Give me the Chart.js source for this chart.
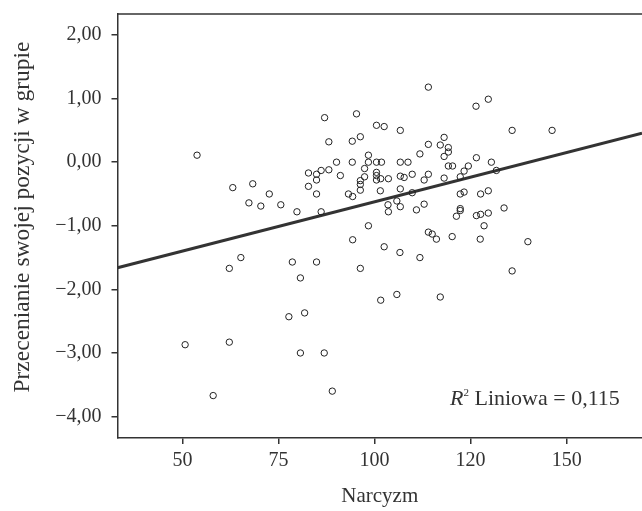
<!DOCTYPE html>
<html>
<head>
<meta charset="utf-8">
<script src="https://cdn.jsdelivr.net/npm/chart.js@4/dist/chart.umd.min.js"></script>
<style>
body{margin:0;background:#fff}
</style>
</head>
<body>
<canvas id="chart" width="642" height="511"></canvas>
<script>
// Narcyzm (x) vs Przecenianie swojej pozycji w grupie (y)
const narcyzm=[53.8,63.1,68.3,67.3,70.4,72.6,75.6,79.8,86.1,82.8,
82.8,84.9,84.9,84.9,86.1,88.1,87.0,88.1,91.1,90.1,
93.2,94.3,94.2,94.2,95.3,96.3,98.4,98.4,97.4,97.4,
96.3,96.3,96.3,100.5,102.5,100.5,101.8,100.5,100.5,100.5,
101.6,103.6,101.5,103.5,103.6,98.4,106.7,126.4,114.0,129.6,
118.1,114.0,117.1,119.2,119.2,111.8,118.1,126.5,106.7,108.7,
119.2,120.3,124.4,123.3,130.4,109.8,106.7,107.7,114.0,112.9,
118.1,122.3,106.7,109.8,122.3,123.3,127.6,129.6,105.8,106.7,
110.9,112.9,122.3,122.3,121.3,126.5,127.6,129.6,128.5,131.7,
133.7,135.8,146.2,94.3,65.2,62.2,78.6,84.9,80.7,96.3,
77.7,81.8,50.7,62.2,80.7,86.9,58.0,89.0,114.0,115.0,
116.1,120.2,127.5,139.9,102.5,106.6,111.8,135.8,101.6,105.8,
117.1]
const przecenianie=[0.11,-0.40,-0.34,-0.64,-0.69,-0.50,-0.67,-0.78,-0.78,-0.17,
-0.38,-0.19,-0.28,-0.50,-0.13,-0.12,0.70,0.32,-0.21,0.00,
-0.50,-0.54,0.00,0.33,0.76,0.40,0.11,0.00,-0.10,-0.23,
-0.29,-0.35,-0.44,0.58,0.56,0.00,0.00,-0.16,-0.21,-0.28,
-0.26,-0.26,-0.45,-0.67,-0.78,-1.00,0.50,0.88,1.18,0.99,
0.39,0.28,0.27,0.23,0.16,0.13,0.09,0.07,0.00,0.00,
-0.06,-0.06,-0.06,-0.14,0.00,-0.19,-0.22,-0.24,-0.19,-0.28,
-0.25,-0.23,-0.42,-0.48,-0.50,-0.47,-0.50,-0.45,-0.61,-0.70,
-0.75,-0.66,-0.73,-0.76,-0.85,-0.84,-0.82,-0.80,-1.00,-0.13,
-0.72,0.50,0.50,-1.22,-1.50,-1.67,-1.57,-1.57,-1.82,-1.67,
-2.43,-2.37,-2.87,-2.83,-3.00,-3.00,-3.67,-3.60,-1.10,-1.13,
-1.21,-1.17,-1.21,-1.25,-1.33,-1.42,-1.50,-1.71,-2.17,-2.08,
-2.12]

// fitted line, end points read at the plot edges
const fitX=[33.1,169.6]
const fitY=[-1.66,0.454]

const xTicks=[50,75,100,125,150]
const xTickLabels=["50","75","100","120","150"]
const yTicks=[-4,-3,-2,-1,0,1,2]
const yTickLabels=["\u22124,00","\u22123,00","\u22122,00","\u22121,00","0,00","1,00","2,00"]
const xTitle="Narcyzm"
const yTitle="Przecenianie swojej pozycji w grupie"
const r2Value="0,115"

const ink="#333"
const serif="'Liberation Serif', 'Times New Roman', serif"

const framePlugin={
id:"frame",
afterDraw(chart){
const c=chart.ctx
const a=chart.chartArea
c.save()
c.strokeStyle=ink
c.lineWidth=1.5
c.beginPath()
c.moveTo(a.left,a.top)
c.lineTo(a.right,a.top)
c.stroke()

// y axis title
c.save()
c.translate(23,a.top+203)
c.rotate(-Math.PI/2)
c.fillStyle=ink
c.font="23.5px "+serif
c.textAlign="center"
c.textBaseline="middle"
c.fillText(yTitle,0,0)
c.restore()

// R2 label
let x=a.right-192
let y=a.bottom-33
c.fillStyle=ink
c.textBaseline="alphabetic"
c.font="italic 22px "+serif
c.fillText("R",x,y)
x+=c.measureText("R").width
c.font="11px "+serif
c.fillText("2",x,y-9)
x+=c.measureText("2").width
c.font="22px "+serif
c.fillText(" Liniowa = "+r2Value,x,y)
c.restore()
}
}

const ctx=document.getElementById("chart")

new Chart(ctx,{
type:"scatter",
data:{
datasets:[{
data:narcyzm.map((v,i)=>({x:v,y:przecenianie[i]})),
pointRadius:3.2,
borderWidth:1,
borderColor:"#222",
backgroundColor:"rgba(255,255,255,0)"
},{
type:"line",
data:fitX.map((v,i)=>({x:v,y:fitY[i]})),
borderColor:ink,
borderWidth:3,
pointRadius:0,
fill:false
}]
},
options:{
responsive:false,
animation:false,
layout:{autoPadding:false,padding:{top:14,right:0,left:0,bottom:0}},
plugins:{legend:{display:false},tooltip:{enabled:false}},
scales:{
x:{
type:"linear",
min:33.1,
max:169.6,
afterBuildTicks:s=>{s.ticks=xTicks.map(v=>({value:v}))},
afterFit:s=>{s.height=73;s.paddingLeft=0;s.paddingRight=0},
ticks:{
callback:(v,i)=>xTickLabels[i],
font:{family:serif,size:20},
color:ink,
padding:5,
maxRotation:0
},
grid:{drawOnChartArea:false,tickLength:6,color:ink,lineWidth:1.5},
border:{color:ink,width:1.5},
title:{display:true,text:xTitle,font:{family:serif,size:21},color:ink,padding:{top:0,bottom:2}}
},
y:{
min:-4.337,
max:2.33,
afterBuildTicks:s=>{s.ticks=yTicks.map(v=>({value:v}))},
afterFit:s=>{s.width=117.5;s.paddingTop=0;s.paddingBottom=0},
ticks:{
callback:(v,i)=>yTickLabels[i],
font:{family:serif,size:20},
color:ink,
padding:10
},
grid:{drawOnChartArea:false,tickLength:6,color:ink,lineWidth:1.5},
border:{color:ink,width:1.5}
}
}
},
plugins:[framePlugin]
})
</script>
</body>
</html>
